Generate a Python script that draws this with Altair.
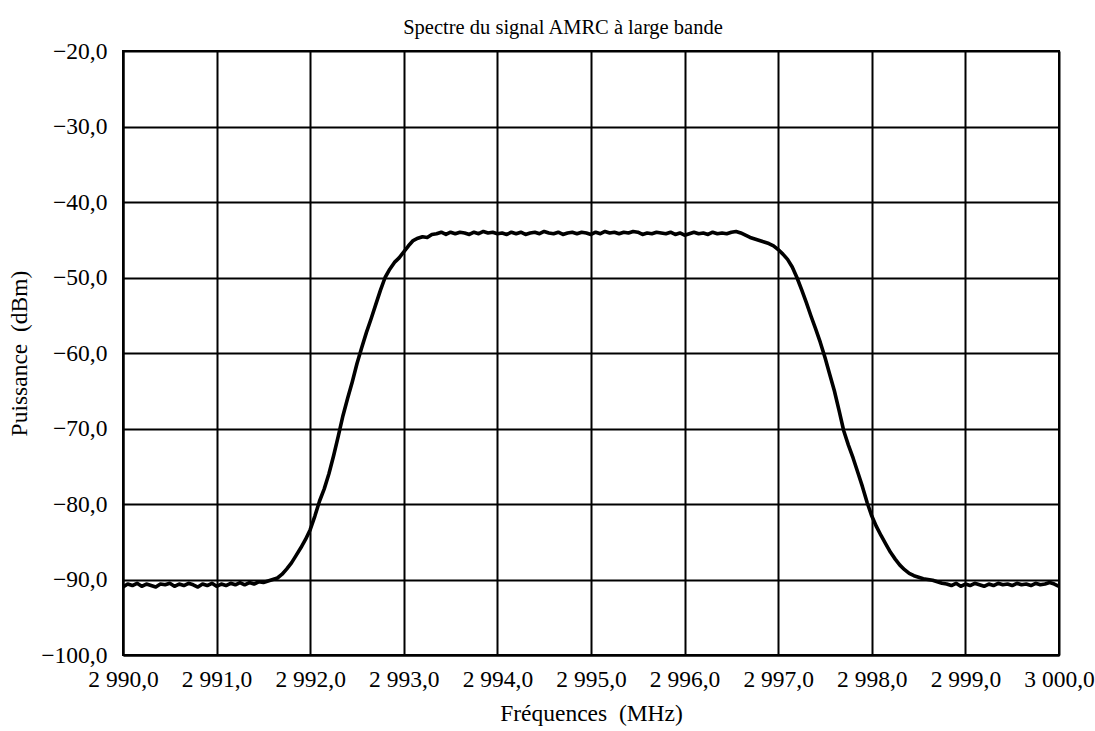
import altair as alt
import pandas as pd

freq = [
    2990.00, 2990.05, 2990.10, 2990.15, 2990.20, 2990.25, 2990.30, 2990.35, 2990.40, 2990.45,
    2990.50, 2990.55, 2990.60, 2990.65, 2990.70, 2990.75, 2990.80, 2990.85, 2990.90, 2990.95,
    2991.00, 2991.05, 2991.10, 2991.15, 2991.20, 2991.25, 2991.30, 2991.35, 2991.40, 2991.45,
    2991.50, 2991.55, 2991.60, 2991.65, 2991.70, 2991.75, 2991.80, 2991.85, 2991.90, 2991.95,
    2992.00, 2992.05, 2992.10, 2992.15, 2992.20, 2992.25, 2992.30, 2992.35, 2992.40, 2992.45,
    2992.50, 2992.55, 2992.60, 2992.65, 2992.70, 2992.75, 2992.80, 2992.85, 2992.90, 2992.95,
    2993.00, 2993.05, 2993.10, 2993.15, 2993.20, 2993.25, 2993.30, 2993.35, 2993.40, 2993.45,
    2993.50, 2993.55, 2993.60, 2993.65, 2993.70, 2993.75, 2993.80, 2993.85, 2993.90, 2993.95,
    2994.00, 2994.05, 2994.10, 2994.15, 2994.20, 2994.25, 2994.30, 2994.35, 2994.40, 2994.45,
    2994.50, 2994.55, 2994.60, 2994.65, 2994.70, 2994.75, 2994.80, 2994.85, 2994.90, 2994.95,
    2995.00, 2995.05, 2995.10, 2995.15, 2995.20, 2995.25, 2995.30, 2995.35, 2995.40, 2995.45,
    2995.50, 2995.55, 2995.60, 2995.65, 2995.70, 2995.75, 2995.80, 2995.85, 2995.90, 2995.95,
    2996.00, 2996.05, 2996.10, 2996.15, 2996.20, 2996.25, 2996.30, 2996.35, 2996.40, 2996.45,
    2996.50, 2996.55, 2996.60, 2996.65, 2996.70, 2996.75, 2996.80, 2996.85, 2996.90, 2996.95,
    2997.00, 2997.05, 2997.10, 2997.15, 2997.20, 2997.25, 2997.30, 2997.35, 2997.40, 2997.45,
    2997.50, 2997.55, 2997.60, 2997.65, 2997.70, 2997.75, 2997.80, 2997.85, 2997.90, 2997.95,
    2998.00, 2998.05, 2998.10, 2998.15, 2998.20, 2998.25, 2998.30, 2998.35, 2998.40, 2998.45,
    2998.50, 2998.55, 2998.60, 2998.65, 2998.70, 2998.75, 2998.80, 2998.85, 2998.90, 2998.95,
    2999.00, 2999.05, 2999.10, 2999.15, 2999.20, 2999.25, 2999.30, 2999.35, 2999.40, 2999.45,
    2999.50, 2999.55, 2999.60, 2999.65, 2999.70, 2999.75, 2999.80, 2999.85, 2999.90, 2999.95,
    3000.00,
]

power = [
    -91.0, -90.6, -90.8, -90.5, -90.9, -90.6, -90.8, -91.0, -90.6, -90.7,
    -90.5, -90.9, -90.6, -90.8, -90.5, -90.7, -91.0, -90.6, -90.8, -90.5,
    -90.9, -90.6, -90.8, -90.5, -90.7, -90.4, -90.7, -90.4, -90.6, -90.3,
    -90.4, -90.2, -90.0, -89.8, -89.3, -88.6, -87.8, -86.8, -85.8, -84.7,
    -83.4, -81.6, -79.6, -78.0, -76.0, -73.6, -71.0, -68.3, -66.0, -63.8,
    -61.4, -59.3, -57.3, -55.5, -53.6, -51.7, -50.0, -48.9, -48.0, -47.4,
    -46.6, -45.8, -45.1, -44.8, -44.6, -44.7, -44.3, -44.2, -44.0, -44.3,
    -44.0, -44.2, -44.0, -44.1, -44.3, -44.0, -44.2, -43.9, -44.1, -44.0,
    -44.2, -44.1, -44.3, -44.0, -44.2, -44.0, -44.3, -44.1, -44.0, -44.2,
    -43.9, -44.1, -44.2, -44.0, -44.3, -44.1, -44.0, -44.2, -44.0, -44.1,
    -44.3, -44.0, -44.2, -43.9, -44.1, -44.0, -44.2, -44.0, -44.1, -43.9,
    -44.0, -44.3, -44.1, -44.2, -44.0, -44.1, -44.2, -44.0, -44.3, -44.1,
    -44.4, -44.2, -44.0, -44.2, -44.1, -44.3, -44.0, -44.2, -44.1, -44.2,
    -44.0, -43.9, -44.1, -44.4, -44.7, -44.9, -45.1, -45.3, -45.5, -45.8,
    -46.3, -46.9, -47.6, -48.6, -50.0, -51.6, -53.3, -55.1, -56.8, -58.6,
    -60.6, -62.8, -65.0, -67.6, -70.3, -72.2, -73.9, -75.8, -77.7, -79.8,
    -81.6, -83.0, -84.2, -85.3, -86.4, -87.3, -88.1, -88.7, -89.2, -89.5,
    -89.7, -89.9, -90.0, -90.1, -90.3, -90.5, -90.6, -90.8, -90.5, -90.9,
    -90.6, -90.8, -90.5, -90.7, -90.9, -90.6, -90.8, -90.5, -90.7, -90.6,
    -90.8, -90.5, -90.7, -90.6, -90.8, -90.5, -90.7, -90.6, -90.4, -90.6,
    -90.9,
]

x_ticks = [2990, 2991, 2992, 2993, 2994, 2995, 2996, 2997, 2998, 2999, 3000]
y_ticks = [-100, -90, -80, -70, -60, -50, -40, -30, -20]

df = pd.DataFrame({"freq": freq, "power": power})

FONT = "Liberation Serif"

common_axis = dict(
    ticks=False,
    gridColor="black",
    gridWidth=2,
    gridOpacity=1,
    domainColor="black",
    domainWidth=2,
    labelFont=FONT,
    titleFont=FONT,
    labelFontSize=23.5,
    titleFontSize=23.5,
    labelColor="black",
    titleColor="black",
    titleFontWeight="normal",
    labelOverlap=False,
    labelFlush=False,
    labelBound=False,
)

chart = (
    alt.Chart(df)
    .mark_line(color="black", strokeWidth=3.6, strokeJoin="round")
    .encode(
        x=alt.X(
            "freq:Q",
            scale=alt.Scale(domain=[2990, 3000], nice=False, zero=False),
            axis=alt.Axis(
                values=x_ticks,
                title="Fréquences\u00a0\u00a0(MHz)",
                labelExpr="replace(replace(format(datum.value, ',.1f'), ',', '\u00a0'), '.', ',')",
                labelPadding=12,
                titlePadding=11,
                **common_axis,
            ),
        ),
        y=alt.Y(
            "power:Q",
            scale=alt.Scale(domain=[-100, -20], nice=False, zero=False),
            axis=alt.Axis(
                values=y_ticks,
                title="Puissance\u00a0\u00a0(dBm)",
                labelExpr="replace(format(datum.value, '.1f'), '.', ',')",
                labelPadding=16,
                titlePadding=9,
                **common_axis,
            ),
        ),
    )
    .properties(
        width=936,
        height=604,
        background="white",
        title=alt.TitleParams(
            "Spectre du signal AMRC à large bande",
            font=FONT,
            fontSize=20.5,
            fontWeight="normal",
            color="black",
            anchor="middle",
            offset=8,
            dy=7,
            dx=-28,
        ),
        autosize=alt.AutoSizeParams(type="none"),
        padding={"left": 123, "top": 51, "right": 36, "bottom": 76},
    )
    .configure_view(stroke="black", strokeWidth=2)
)

chart.save("out.html", embed_options={"renderer": "svg", "actions": False})
